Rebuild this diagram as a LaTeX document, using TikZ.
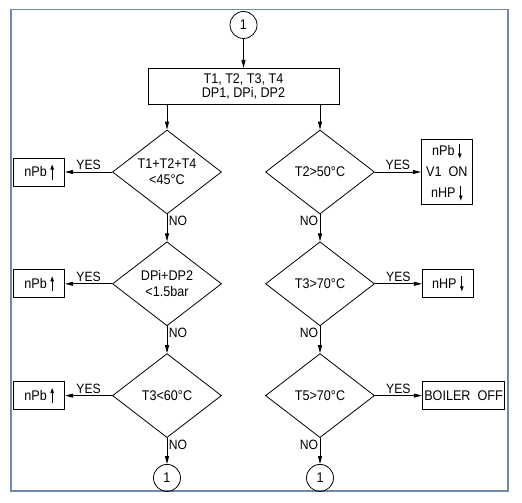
\documentclass[tikz,border=0pt]{standalone}
\usepackage{fontspec}
\setmainfont{Liberation Sans}[FakeStretch=0.9]
\usetikzlibrary{arrows.meta,positioning,shapes.geometric}
\definecolor{framecol}{HTML}{7388AD}
\newcommand{\uparr}{\tikz[baseline=0pt, x=1pt, y=1pt]\draw[line width=0.8pt, -{Triangle[length=5pt, width=3.5pt]}] (0,-3) -- (0,12);}
\newcommand{\dnarr}{\tikz[baseline=0pt, x=1pt, y=1pt]\draw[line width=0.8pt, -{Triangle[length=5pt, width=3.5pt]}] (0,12) -- (0,-3);}

\begin{document}
\begin{tikzpicture}[x=1pt, y=-1pt, node distance=27pt and 47pt, font=\fontsize{14}{15}\selectfont, test/.style={draw, diamond, thick, aspect=1.3, minimum width=109pt, minimum height=84pt, inner sep=0pt, align=center}, act/.style={draw, thick, minimum width=51pt, minimum height=28pt, inner sep=2pt, align=center}, conn/.style={draw, circle, thick, minimum size=27pt, inner sep=0pt}, arr/.style={-{Triangle[length=8pt, width=4pt]}, thick}, lbl/.style={font=\fontsize{13.5}{14}\selectfont, inner sep=1.5pt}]
\useasboundingbox (0,0) rectangle (522,503);
\draw[framecol, line width=1.6pt] (11,9.5) rectangle (508,491);
\node[conn] (top) at (243.5,25) {1};
\node[act, minimum width=191pt, minimum height=36pt, below=29pt of top, font=\fontsize{14}{14}\selectfont] (inp) {T1, T2, T3, T4\\DP1, DPi, DP2};
% left column
\node[test] (a1) at (167,172) {T1+T2+T4\\[1pt]{<}45°C};
\node[test, below=of a1] (a2) {DPi+DP2\\[1pt]{<}1.5bar};
\node[test, below=of a2] (a3) {T3{<}60°C};
\node[conn, below=26pt of a3] (a4) {1};
\node[act, left=of a1] (pa1) {nPb\ \uparr};
\node[act, left=of a2] (pa2) {nPb\ \uparr};
\node[act, left=of a3] (pa3) {nPb\ \uparr};
% right column
\node[test] (b1) at (320,172) {T2{>}50°C};
\node[test, below=of b1] (b2) {T3{>}70°C};
\node[test, below=of b2] (b3) {T5{>}70°C};
\node[conn, below=26pt of b3] (b4) {1};
\node[act, right=46pt of b1, minimum height=65pt, font=\fontsize{14}{21}\selectfont] (pb1) {nPb\ \dnarr\\V1\ \ ON\\nHP\ \dnarr};
\node[act, right=of b2] (pb2) {nHP\ \dnarr};
\node[act, right=of b3, minimum width=81pt] (pb3) {BOILER\ \ OFF};
% connectors
\draw[arr] (top) -- (inp);
\draw[arr] (inp.south -| a1.north) -- (a1.north);
\draw[arr] (inp.south -| b1.north) -- (b1.north);
\draw[arr] (a1.west) -- node[lbl, above] {YES} (pa1);
\draw[arr] (a2.west) -- node[lbl, above] {YES} (pa2);
\draw[arr] (a3.west) -- node[lbl, above] {YES} (pa3);
\draw[arr] (b1.east) -- node[lbl, above] {YES} (pb1);
\draw[arr] (b2.east) -- node[lbl, above] {YES} (pb2);
\draw[arr] (b3.east) -- node[lbl, above] {YES} (pb3);
\draw[arr] (a1.south) -- node[lbl, anchor=north west, pos=0] {NO} (a2.north);
\draw[arr] (a2.south) -- node[lbl, anchor=north west, pos=0] {NO} (a3.north);
\draw[arr] (a3.south) -- node[lbl, anchor=north west, pos=0] {NO} (a4);
\draw[arr] (b1.south) -- node[lbl, anchor=north east, pos=0] {NO} (b2.north);
\draw[arr] (b2.south) -- node[lbl, anchor=north east, pos=0] {NO} (b3.north);
\draw[arr] (b3.south) -- node[lbl, anchor=north east, pos=0] {NO} (b4);
\end{tikzpicture}
\end{document}
